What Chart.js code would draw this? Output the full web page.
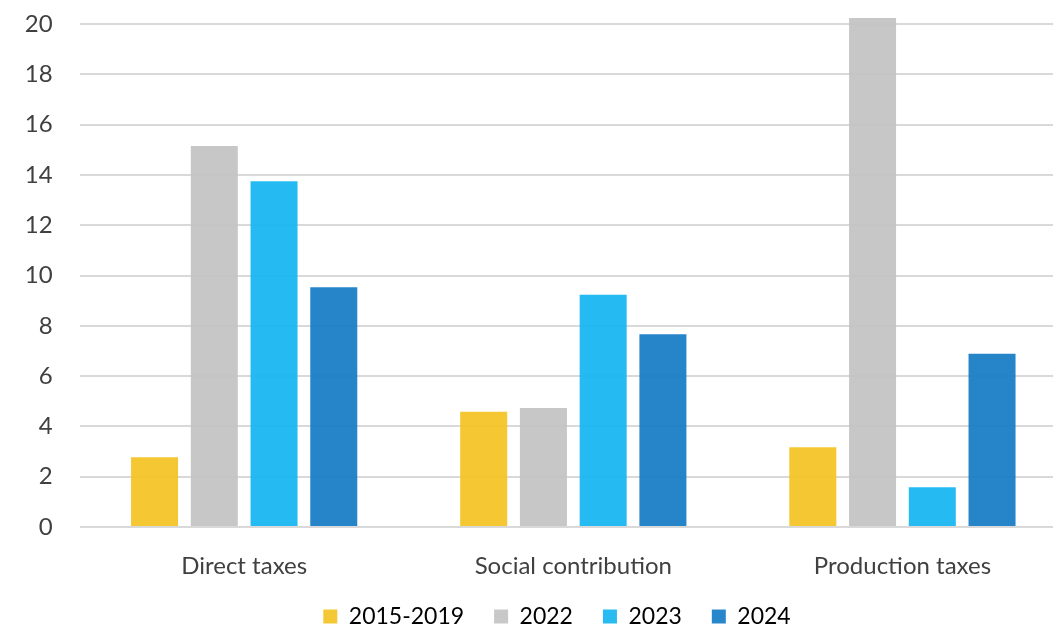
<!DOCTYPE html>
<html>
<head>
<meta charset="utf-8">
<script src="https://cdn.jsdelivr.net/npm/chart.js@4"></script>
<style>
  html, body { margin: 0; padding: 0; background: #fff; overflow: hidden; }
  #wrap { position: absolute; left: 0; top: 0; width: 1067px; height: 628px; }
</style>
</head>
<body>
<div id="wrap"><canvas id="chart" width="1067" height="628"></canvas></div>
<script>
// Revenue growth by tax type
const categories = ['Direct taxes', 'Social contribution', 'Production taxes'];
const seriesNames = ['2015-2019', '2022', '2023', '2024'];
const values2015to2019 = [2.77, 4.58, 3.17];
const values2022 = [15.15, 4.73, 20.24];
const values2023 = [13.75, 9.24, 1.58];
const values2024 = [9.53, 7.66, 6.89];
const yTicks = [0, 2, 4, 6, 8, 10, 12, 14, 16, 18, 20];

const seriesValues = [values2015to2019, values2022, values2023, values2024];
const seriesColors = [
  'rgba(243,195,35,0.93)',
  'rgba(195,195,195,0.93)',
  'rgba(21,181,241,0.93)',
  'rgba(22,123,197,0.93)'
];
const legendColors = ['#F4C835', '#C8C8C8', '#28BBF2', '#2886CA'];

const font = "Lato, 'Open Sans', sans-serif";
const textColor = '#404040';

// place the legend row: a little right of centre, near the bottom edge
const legendPlacement = {
  id: 'legendPlacement',
  afterLayout(chart) {
    const lg = chart.legend;
    if (!lg) return;
    lg.left += 47;
    lg.top = 575;
    lg.bottom = chart.height;
    lg.height = lg.bottom - lg.top;
  }
};

new Chart(document.getElementById('chart'), {
  type: 'bar',
  data: {
    labels: categories,
    datasets: seriesNames.map((name, i) => ({
      label: name,
      data: seriesValues[i],
      backgroundColor: seriesColors[i],
      borderWidth: 0,
      categoryPercentage: 0.726,
      barPercentage: 0.787
    }))
  },
  plugins: [legendPlacement],
  options: {
    responsive: false,
    animation: false,
    layout: { autoPadding: false, padding: { left: 0, right: 0, top: 14, bottom: 0 } },
    plugins: {
      tooltip: { enabled: false },
      legend: {
        position: 'bottom',
        maxHeight: 30,
        labels: {
          boxWidth: 14,
          boxHeight: 14,
          padding: 30,
          color: textColor,
          font: { family: font, size: 23 },
          generateLabels: () => seriesNames.map((name, i) => ({
            text: name,
            fillStyle: legendColors[i],
            strokeStyle: legendColors[i],
            lineWidth: 0,
            datasetIndex: i,
            hidden: false
          }))
        }
      }
    },
    scales: {
      x: {
        grid: { display: false },
        border: { display: false },
        ticks: {
          color: textColor,
          font: { family: font, size: 24 },
          padding: 17
        },
        afterFit: (scale) => { scale.height = 71; }
      },
      y: {
        min: 0,
        max: 20.4,
        grid: { color: '#D9D9D9', lineWidth: 2, drawTicks: false },
        border: { display: false },
        ticks: {
          stepSize: 2,
          color: textColor,
          font: { family: font, size: 24 },
          padding: 27
        },
        afterBuildTicks: (scale) => {
          scale.ticks = yTicks.map(v => ({ value: v }));
        },
        afterFit: (scale) => {
          scale.width = 79.6;
          scale.paddingTop = 0;
          scale.paddingBottom = 0;
        }
      }
    }
  }
});
</script>
</body>
</html>
